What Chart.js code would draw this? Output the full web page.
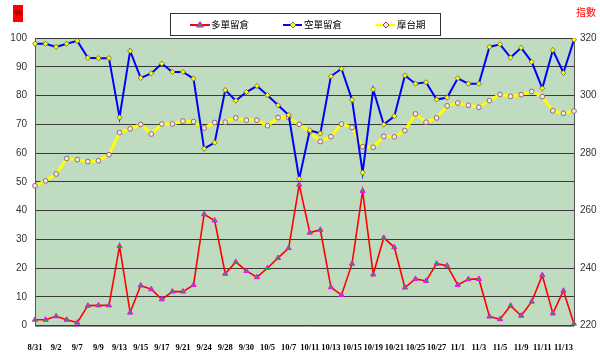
<!DOCTYPE html>
<html>
<head>
<meta charset="utf-8">
<script src="https://cdn.jsdelivr.net/npm/chart.js@4/dist/chart.umd.min.js"></script>
<style>
  html,body{margin:0;padding:0;background:#fff;}
  #wrap{position:relative;width:600px;height:364px;overflow:hidden;}
  canvas{position:absolute;left:0;top:0;}
  .cjk{font-family:"Noto Sans CJK TC","Noto Sans CJK SC",sans-serif;}
  #pct{position:absolute;left:13px;top:5px;width:10px;height:17px;background:#f00;color:#400;font:9px "Liberation Sans",sans-serif;text-align:center;line-height:17px;}
  #idx{position:absolute;left:576px;top:6px;color:#f00;font-size:10px;line-height:12px;}
  #legend{position:absolute;left:170px;top:13px;width:269px;height:21px;border:1px solid #333;background:#fff;}
  .li{position:absolute;top:0;height:21px;}
  .li svg{position:absolute;left:0;top:0;}
  .li span{position:absolute;top:4px;font-size:9.5px;line-height:12px;color:#000;white-space:nowrap;}
</style>
</head>
<body>
<div id="wrap">
  <canvas id="c" width="600" height="364"></canvas>
  <div id="pct">%</div>
  <div id="idx" class="cjk">指數</div>
  <div id="legend" class="cjk">
    <div class="li" style="left:19px;width:80px;">
      <svg width="22" height="21"><line x1="0" y1="11" x2="20" y2="11" stroke="#f00" stroke-width="2"/><polygon points="10,7.5 13.5,13 6.5,13" fill="#00c000" stroke="#f0f" stroke-width="1"/></svg>
      <span style="left:21px;">多單留倉</span>
    </div>
    <div class="li" style="left:112px;width:80px;">
      <svg width="22" height="21"><line x1="0" y1="11" x2="19" y2="11" stroke="#00f" stroke-width="2"/><polygon points="10,8 13,11 10,14 7,11" fill="#ff0" stroke="#555" stroke-width="0.8"/></svg>
      <span style="left:21px;">空單留倉</span>
    </div>
    <div class="li" style="left:205px;width:70px;">
      <svg width="22" height="21"><line x1="0" y1="11" x2="19" y2="11" stroke="#ff0" stroke-width="2.5"/><polygon points="10,8 13,11 10,14 7,11" fill="#eee" stroke="#936" stroke-width="0.9"/></svg>
      <span style="left:21px;">摩台期</span>
    </div>
  </div>
</div>
<script>
const categories = ["8/31","9/1","9/2","9/4","9/7","9/8","9/9","9/10","9/13","9/14","9/15","9/16","9/17","9/18","9/21","9/22","9/24","9/25","9/28","9/29","9/30","10/1","10/5","10/6","10/7","10/8","10/11","10/12","10/13","10/14","10/15","10/16","10/19","10/20","10/21","10/22","10/25","10/26","10/27","10/28","11/1","11/2","11/3","11/4","11/5","11/6","11/9","11/10","11/11","11/12","11/13","11/16"];
const longPct = [2.0,2.0,3.2,2.0,1.0,6.9,7.0,7.0,27.6,4.5,13.9,12.6,9.1,11.8,11.8,14.1,38.7,36.5,18.0,22.1,19.0,16.8,20.0,23.5,26.9,49.0,32.3,33.3,13.3,10.6,21.5,46.8,17.8,30.5,27.2,13.2,16.2,15.5,21.5,20.8,14.1,16.1,16.2,3.1,2.2,6.9,3.4,8.3,17.5,4.2,12.1,0.5];
const shortPct = [98,98,96.9,98,99,93.1,93,93,72.4,95.5,86.1,87.7,91.1,88.2,88.2,85.9,61.5,63.6,81.9,78.2,81.2,83.3,80.1,76.6,73.2,51,67.9,66.8,86.7,89.3,78.5,53.2,82.1,69.9,72.8,87.0,84.1,84.6,78.6,79.3,86.0,84.1,84.1,96.9,97.8,93.2,96.6,91.7,82.5,95.8,87.9,99.4];
const mtxIndex = [268.6,270.3,272.7,278.1,277.7,277.0,277.3,279.4,287.1,288.4,289.9,286.6,290.1,290.1,291.1,290.9,288.7,290.6,290.7,292.2,291.4,291.4,289.5,292.3,292.3,290.0,287.3,284.0,285.7,290.1,288.9,282.2,282.0,285.8,285.6,287.8,293.6,290.7,292.2,296.4,297.4,296.6,295.9,298.2,300.4,299.7,300.3,301.4,299.6,294.7,293.8,294.6];
const leftTicks = {min:0, max:100, step:10};
const rightTicks = {min:220, max:320, step:20};

const bgPlugin = {
  id:'bg',
  beforeDraw(chart){
    const {ctx, chartArea:a} = chart;
    ctx.save();
    ctx.fillStyle = '#c0dcc0';
    ctx.fillRect(a.left, a.top, a.right-a.left, a.bottom-a.top);
    ctx.restore();
  },
  afterDatasetsDraw(chart){
    const {ctx, chartArea:a} = chart;
    ctx.save();
    ctx.strokeStyle = '#909090';
    ctx.lineWidth = 1;
    ctx.beginPath();
    ctx.moveTo(a.left, Math.round(a.bottom)+0.5);
    ctx.lineTo(a.right, Math.round(a.bottom)+0.5);
    ctx.stroke();
    ctx.restore();
  }
};

new Chart(document.getElementById('c'), {
  type:'line',
  data:{
    labels:categories,
    datasets:[
      {label:'多單留倉', data:longPct, yAxisID:'y', borderColor:'#ff0000', borderWidth:1.6,
       pointStyle:'triangle', pointRadius:3, pointBackgroundColor:'#00c000', pointBorderColor:'#ff00ff', pointBorderWidth:1,
       tension:0, order:1},
      {label:'空單留倉', data:shortPct, yAxisID:'y', borderColor:'#0000ff', borderWidth:2,
       pointStyle:'rectRot', pointRadius:2.6, pointBackgroundColor:'#ffff00', pointBorderColor:'#666633', pointBorderWidth:0.8,
       tension:0, order:2},
      {label:'摩台期', data:mtxIndex, yAxisID:'y2', borderColor:'#ffff00', borderWidth:3,
       pointStyle:'circle', pointRadius:2.4, pointBackgroundColor:'#e8e8f0', pointBorderColor:'#996677', pointBorderWidth:1,
       tension:0, order:3}
    ]
  },
  options:{
    responsive:false, animation:false,
    layout:{padding:{top:38,left:0,right:0,bottom:0}},
    plugins:{legend:{display:false}, tooltip:{enabled:false}},
    scales:{
      x:{
        offset:false,
        grid:{display:false, drawTicks:false},
        border:{display:false},
        ticks:{autoSkip:false, maxRotation:0, minRotation:0, padding:17, color:'#000',
          font:{family:'"Liberation Serif", serif', size:8.5, weight:'bold'},
          callback:function(v,i){ return i%2===0 ? this.getLabelForValue(v) : ''; }},
        afterFit(s){ s.height = 38.5; }
      },
      y:{
        position:'left', min:leftTicks.min, max:leftTicks.max,
        ticks:{stepSize:leftTicks.step, padding:8, color:'#333', font:{family:'"Liberation Sans", Arial, sans-serif', size:10}},
        grid:{color:'#3a3a3a', lineWidth:1, drawTicks:false},
        border:{color:'#555', width:1},
        afterFit(s){ s.width = 35; }
      },
      y2:{
        position:'right', min:rightTicks.min, max:rightTicks.max,
        ticks:{stepSize:rightTicks.step, padding:6, color:'#333', font:{family:'"Liberation Sans", Arial, sans-serif', size:10}},
        grid:{drawOnChartArea:false, drawTicks:false},
        border:{color:'#555', width:1},
        afterFit(s){ s.width = 26; }
      }
    }
  },
  plugins:[bgPlugin]
});
</script>
</body>
</html>
